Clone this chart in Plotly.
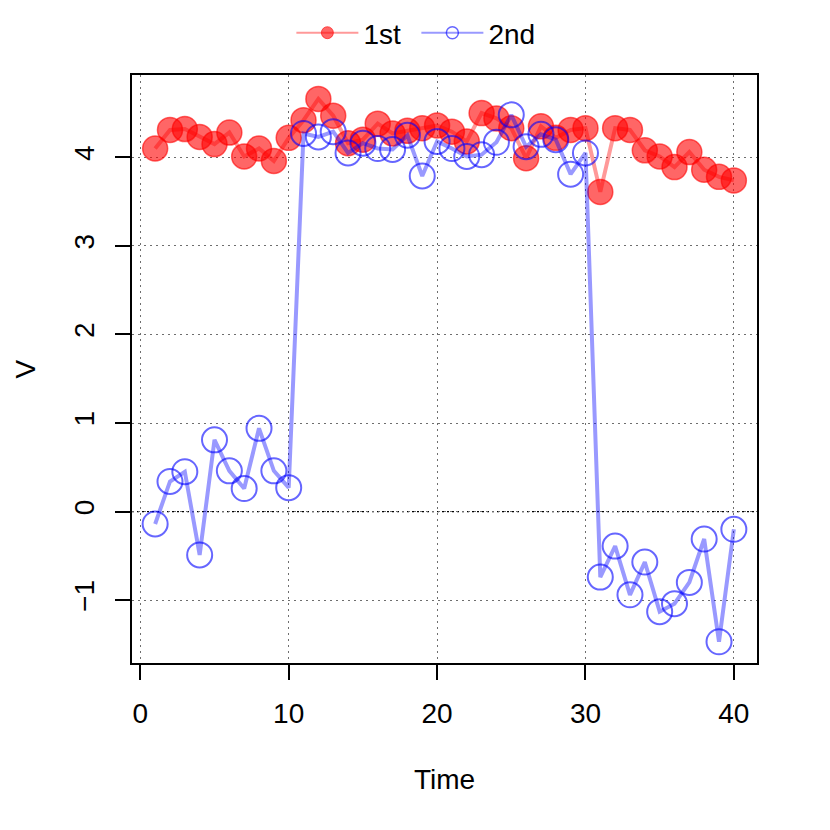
import plotly.graph_objects as go

time = list(range(1, 41))

first = [4.10, 4.31, 4.32, 4.23, 4.15, 4.28, 4.01, 4.10, 3.96, 4.22,
         4.42, 4.66, 4.47, 4.16, 4.20, 4.38, 4.27, 4.30, 4.33, 4.36,
         4.29, 4.18, 4.50, 4.44, 4.33, 3.99, 4.35, 4.22, 4.31, 4.33,
         3.61, 4.33, 4.31, 4.08, 4.01, 3.89, 4.06, 3.86, 3.78, 3.74]

second = [-0.14, 0.34, 0.45, -0.49, 0.81, 0.46, 0.26, 0.94, 0.46, 0.27,
          4.27, 4.23, 4.29, 4.05, 4.16, 4.10, 4.09, 4.25, 3.79, 4.18,
          4.10, 4.01, 4.03, 4.17, 4.48, 4.12, 4.26, 4.20, 3.81, 4.05,
          -0.74, -0.39, -0.94, -0.57, -1.13, -1.04, -0.80, -0.31, -1.47, -0.20]

x_ticks = [0, 10, 20, 30, 40]
y_ticks = [-1, 0, 1, 2, 3, 4]

RED_LINE = "rgba(255,0,0,0.4)"
RED_PT = "rgba(255,0,0,0.6)"
BLUE_LINE = "rgba(0,0,255,0.4)"
BLUE_PT = "rgba(0,0,255,0.6)"

fig = go.Figure()

# zero reference line (drawn under the data)
fig.add_shape(type="line", xref="paper", x0=0, x1=1, yref="y", y0=0, y1=0,
              line=dict(color="black", width=1.3, dash="2px,3px"), layer="below")

fig.add_trace(go.Scatter(
    x=time, y=first, mode="lines+markers", showlegend=False,
    line=dict(color=RED_LINE, width=4),
    marker=dict(symbol="circle", size=25, color=RED_PT,
                line=dict(color=RED_PT, width=1.5)),
))
fig.add_trace(go.Scatter(
    x=time, y=second, mode="lines+markers", showlegend=False,
    line=dict(color=BLUE_LINE, width=4),
    marker=dict(symbol="circle-open", size=25, color=BLUE_PT,
                line=dict(color=BLUE_PT, width=2)),
))

# legend-only entries with small markers
fig.add_trace(go.Scatter(
    x=[None], y=[None], mode="lines+markers", name="1st",
    line=dict(color=RED_LINE, width=2),
    marker=dict(symbol="circle", size=12, color=RED_PT,
                line=dict(color=RED_PT, width=1)),
))
fig.add_trace(go.Scatter(
    x=[None], y=[None], mode="lines+markers", name="2nd",
    line=dict(color=BLUE_LINE, width=2),
    marker=dict(symbol="circle-open", size=12, color=BLUE_PT,
                line=dict(color=BLUE_PT, width=1.5)),
))

axis_common = dict(
    showline=True, linecolor="black", linewidth=1.5, mirror=True,
    ticks="outside", ticklen=15, tickwidth=1.5, tickcolor="black",
    showgrid=True, gridcolor="rgb(110,110,110)", griddash="2px,4px", gridwidth=1.2,
    zeroline=False, tickfont=dict(size=28, color="black"), automargin=False,
    ticklabelstandoff=10,
)

fig.update_xaxes(range=[-0.56, 41.56], tickvals=x_ticks,
                 title=dict(text="Time", font=dict(size=28), standoff=41),
                 **axis_common)
fig.update_yaxes(range=[-1.71, 4.93], tickvals=y_ticks, tickangle=-90,
                 **axis_common)

# y title as annotation so it can sit close to the page edge
fig.add_annotation(text="V", xref="paper", x=-0.172, xanchor="center",
                   yref="paper", y=0.5, yanchor="middle", textangle=-90,
                   showarrow=False, font=dict(size=28, color="black"))

# page body adds an 8px offset, so the figure is sized to fit the window
fig.update_layout(
    width=814, height=814,
    margin=dict(l=124, r=65, t=67, b=159),
    paper_bgcolor="white", plot_bgcolor="white",
    font=dict(family="Liberation Sans, Arial, sans-serif", color="black", size=28),
    legend=dict(orientation="h", x=0.455, xanchor="center", y=1.0, yanchor="top",
                yref="container", font=dict(size=28), bgcolor="rgba(0,0,0,0)",
                itemwidth=62, entrywidth=48, entrywidthmode="pixels"),
)

fig.write_html("out.html")
